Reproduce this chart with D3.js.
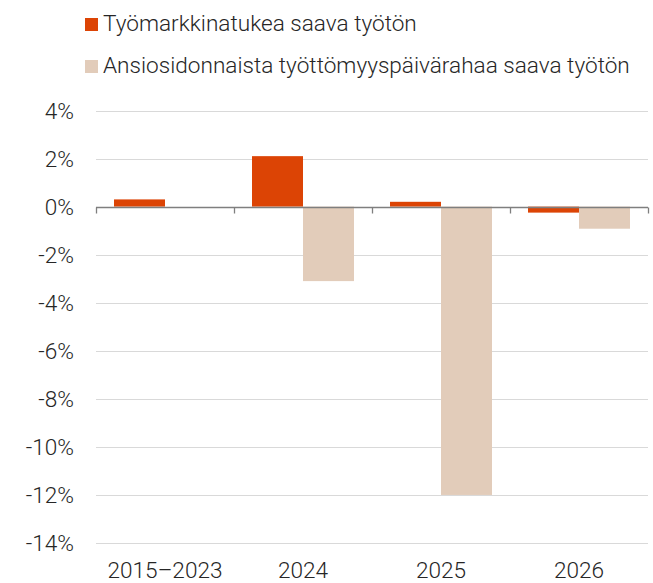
<!DOCTYPE html>
<html>
<head>
<meta charset="utf-8">
<script src="https://cdn.jsdelivr.net/npm/d3@7"></script>
<style>
  body { margin: 0; background: #fff; }
  text { font-family: Roboto, sans-serif; font-weight: 300; fill: #262626; }
</style>
</head>
<body>
<div id="chart"></div>
<script>
// data
const categories = ["2015\u20132023", "2024", "2025", "2026"];
const seriesNames = ["Työmarkkinatukea saava työtön", "Ansiosidonnaista työttömyyspäivärahaa saava työtön"];
const tyomarkkinatuki = [0.3, 2.1, 0.2, -0.25];
const ansiosidonnainen = [0, -3.1, -12, -0.92];
const yTicks = [4, 2, 0, -2, -4, -6, -8, -10, -12, -14];
const colors = ["#dc4405", "#e2ccba"];

const W = 653, H = 583;
const margin = { top: 110.5, right: 5, bottom: 40, left: 96 };
const fontSize = "22.6px";

const svg = d3.select("#chart").append("svg")
  .attr("width", W).attr("height", H);

const x = d3.scaleBand()
  .domain(categories)
  .range([margin.left, W - margin.right]);

// two bars per category, ~18px gap on each side
const xInner = d3.scaleBand()
  .domain([0, 1])
  .range([0, x.bandwidth()])
  .paddingOuter(0.353);

const y = d3.scaleLinear()
  .domain([4, -14])
  .range([margin.top, 543]);

// gridlines
svg.append("g")
  .selectAll("line")
  .data(yTicks.filter(d => d !== 0))
  .join("line")
  .attr("x1", margin.left).attr("x2", W - margin.right)
  .attr("y1", d => Math.round(y(d)) + 0.5).attr("y2", d => Math.round(y(d)) + 0.5)
  .attr("stroke", "#d9d9d9").attr("stroke-width", 1);

// y labels
svg.append("g")
  .selectAll("text")
  .data(yTicks)
  .join("text")
  .attr("x", 74)
  .attr("y", d => y(d))
  .attr("dy", "0.36em")
  .attr("text-anchor", "end")
  .style("font-size", fontSize)
  .text(d => d + "%");

// bars
const series = [tyomarkkinatuki, ansiosidonnainen];
series.forEach((vals, si) => {
  svg.append("g")
    .selectAll("rect")
    .data(vals.map((v, i) => ({ cat: categories[i], v })).filter(d => d.v !== 0))
    .join("rect")
    .attr("x", d => x(d.cat) + xInner(si))
    .attr("width", xInner.bandwidth())
    .attr("y", d => y(Math.max(0, d.v)))
    .attr("height", d => Math.abs(y(d.v) - y(0)))
    .attr("fill", colors[si]);
});

// zero axis with ticks
const y0 = Math.round(y(0)) + 0.5;
svg.append("line")
  .attr("x1", margin.left).attr("x2", W - margin.right)
  .attr("y1", y0).attr("y2", y0)
  .attr("stroke", "#7f7f7f").attr("stroke-width", 1.3);
svg.append("g")
  .selectAll("line")
  .data(categories.map(c => x(c)).concat([W - margin.right]))
  .join("line")
  .attr("x1", d => Math.round(d) + 0.5).attr("x2", d => Math.round(d) + 0.5)
  .attr("y1", y0).attr("y2", y0 + 6)
  .attr("stroke", "#7f7f7f").attr("stroke-width", 1.3);

// x labels
svg.append("g")
  .selectAll("text")
  .data(categories)
  .join("text")
  .attr("x", d => x(d) + x.bandwidth() / 2)
  .attr("y", 578)
  .attr("text-anchor", "middle")
  .style("font-size", fontSize)
  .text(d => d);

// legend
const legend = svg.append("g");
seriesNames.forEach((name, i) => {
  const baseline = 31 + i * 42;
  legend.append("rect")
    .attr("x", 85).attr("y", baseline - 13).attr("width", 13).attr("height", 13)
    .attr("fill", colors[i]);
  legend.append("text")
    .attr("x", 103).attr("y", baseline)
    .style("font-size", fontSize)
    .text(name);
});
</script>
</body>
</html>
